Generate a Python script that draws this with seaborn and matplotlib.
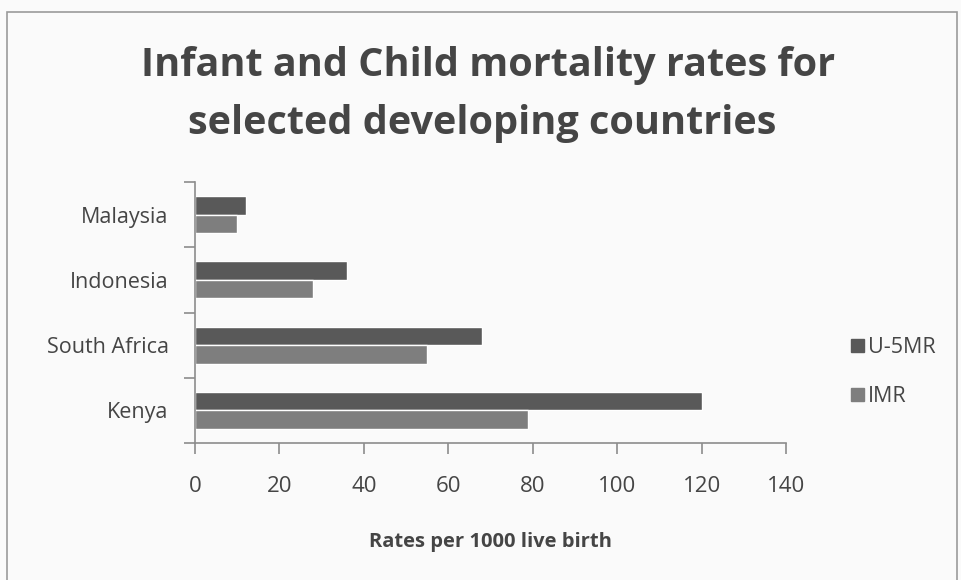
import matplotlib
matplotlib.use("Agg")
import matplotlib.pyplot as plt
from matplotlib.patches import Rectangle
import seaborn as sns
import pandas as pd

countries = ["Malaysia", "Indonesia", "South Africa", "Kenya"]
u5mr = [12, 36, 68, 120]
imr = [10, 28, 55, 79]
series = ["U-5MR", "IMR"]
x_ticks = [0, 20, 40, 60, 80, 100, 120, 140]

df = pd.DataFrame({
    "country": countries * 2,
    "rate": u5mr + imr,
    "series": [series[0]] * len(countries) + [series[1]] * len(countries),
})

sns.set_theme(style="white")
plt.rcParams["font.family"] = ["Open Sans", "DejaVu Sans"]

text_color = "#454545"
axis_color = "#8c8c8c"
bar_colors = {"U-5MR": "#595959", "IMR": "#7e7e7e"}

W, H = 962, 580
fig = plt.figure(figsize=(W / 100, H / 100), dpi=100)
fig.patch.set_facecolor("#fafafa")
ax = fig.add_axes([195 / W, 1 - 443 / H, (786 - 195) / W, (443 - 182) / H])
ax.set_facecolor("#fafafa")

sns.barplot(data=df, y="country", x="rate", hue="series", order=countries,
            hue_order=series, palette=bar_colors, orient="h", width=0.57,
            saturation=1, ax=ax, legend=False)

ax.set_xlim(0, 140)
ax.set_ylim(3.5, -0.5)
ax.set_xticks(x_ticks)
ax.set_xticklabels([str(v) for v in x_ticks])
ax.set_yticks(range(len(countries)))
ax.set_yticklabels(countries)
ax.set_yticks([-0.5, 0.5, 1.5, 2.5, 3.5], minor=True)

for s in ["top", "right"]:
    ax.spines[s].set_visible(False)
for s in ["left", "bottom"]:
    ax.spines[s].set_color(axis_color)
    ax.spines[s].set_linewidth(1.2)

ax.tick_params(axis="y", which="major", length=0, pad=19, labelsize=15.5, labelcolor=text_color)
ax.tick_params(axis="y", which="minor", length=8, width=1.2, color=axis_color, left=True)
ax.tick_params(axis="x", which="major", length=8, width=1.2, color=axis_color, bottom=True,
               pad=16, labelsize=16, labelcolor=text_color)

ax.set_ylabel("")
ax.set_xlabel("Rates per 1000 live birth", fontsize=14.5, fontweight="bold",
              color=text_color, labelpad=25)

fig.text(488 / W, 1 - 76 / H, "Infant and Child mortality rates for",
         ha="center", va="baseline", fontsize=28.5, fontweight="bold", color=text_color)
fig.text(482 / W, 1 - 134 / H, "selected developing countries",
         ha="center", va="baseline", fontsize=28.5, fontweight="bold", color=text_color)

handles = [Rectangle((0, 0), 1, 1, color=bar_colors[s]) for s in series]
fig.legend(handles, series, loc="center left", bbox_to_anchor=(851 / W, 1 - 372 / H),
           frameon=False, fontsize=15.5, labelspacing=1.3, handlelength=0.6,
           handleheight=0.6, handletextpad=0.2, borderpad=0, borderaxespad=0,
           labelcolor=text_color)

fig.patches.append(Rectangle((7 / W, -0.05), (957 - 7) / W, 1.05 - 12 / H,
                             transform=fig.transFigure, fill=False,
                             edgecolor="#9a9a9a", linewidth=1.2))

fig.savefig("out.png", dpi=100, facecolor=fig.get_facecolor())
